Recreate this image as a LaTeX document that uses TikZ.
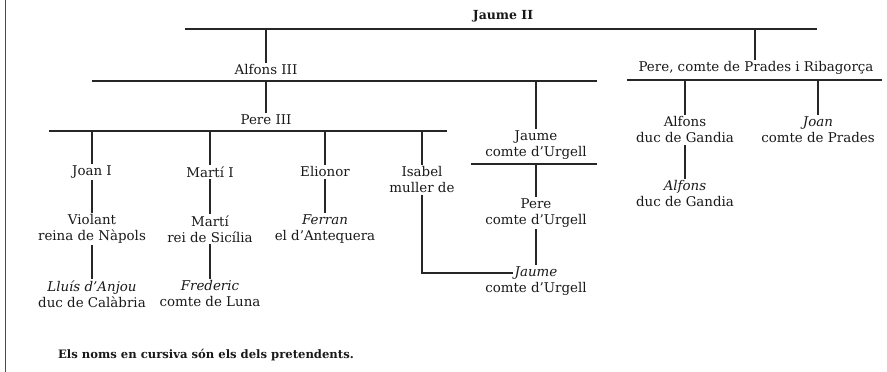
\documentclass[tikz,border=0pt]{standalone}
\usepackage{fontspec}
\setmainfont{DejaVu Serif}
\usepackage{tikz}
\usetikzlibrary{positioning}

\begin{document}
\begin{tikzpicture}[x=1pt,y=-1pt,
		every node/.style={font=\fontsize{13.4}{16}\selectfont,text=black!90,align=center,inner sep=1.5pt},
		head/.style={font=\fontsize{12.5}{14}\selectfont\bfseries},
		note/.style={font=\fontsize{11.6}{13}\selectfont\bfseries},
		bar/.style={line width=1.5pt,draw=black!85},
		link/.style={line width=1.3pt,draw=black!85}]
		\useasboundingbox (0,0) rectangle (887,372);
		\path (5.5,0) coordinate (frame_t);
		\path (5.5,372) coordinate (frame_b);
		\draw[line width=1.8pt,black!70] (frame_t) -- (frame_b);

		% generations
		\path (503,16) coordinate (jaume);
		\path (185,29) coordinate (top_l);
		\path (817,29) coordinate (top_r);
		\path (266,29) coordinate (alfons_up);
		\path (755,29) coordinate (prades_up);

		\path (266,70) coordinate (alfons);
		\path (92,81) coordinate (alfons_l);
		\path (597,81) coordinate (alfons_r);
		\path (266,81) coordinate (pere_up);
		\path (536,81) coordinate (urgell_up);

		\path (756,68) coordinate (prades);
		\path (627,80) coordinate (prades_l);
		\path (882,80) coordinate (prades_r);
		\path (685,80) coordinate (gandia_up);
		\path (818,80) coordinate (joanp_up);

		\path (266,120) coordinate (pere);
		\path (49,131) coordinate (pere_l);
		\path (447,131) coordinate (pere_r);
		\path (92,131) coordinate (joani_up);
		\path (210,131) coordinate (martii_up);
		\path (325,131) coordinate (elionor_up);
		\path (422,131) coordinate (isabel_up);

		\path (536,145) coordinate (urgell);
		\path (471,164) coordinate (urgell_l);
		\path (597,164) coordinate (urgell_r);
		\path (536,164) coordinate (pereu_up);

		\path (92,172) coordinate (joani);
		\path (210,172) coordinate (martii);
		\path (325,172) coordinate (elionor);
		\path (422,180) coordinate (isabel);
		\path (92,229) coordinate (violant);
		\path (210,229) coordinate (marti);
		\path (325,229) coordinate (ferran);
		\path (92,294) coordinate (lluis);
		\path (210,294) coordinate (frederic);
		\path (536,213) coordinate (pereu);
		\path (536,273) coordinate (jaumeu);
		\path (685,130) coordinate (gandia);
		\path (818,130) coordinate (joanp);
		\path (685,194) coordinate (gandia2);
		\path (206,355) coordinate (foot);

		% names
		\draw (jaume) node(jaume_ii) [head] {Jaume II};
		\draw (alfons) node(alfons_iii) {Alfons III};
		\draw (prades) node(prades_rib) {Pere, comte de Prades i Ribagorça};
		\draw (pere) node(pere_iii) {Pere III};
		\draw (urgell) node(jaume_urg) {Jaume\\comte d'Urgell};
		\draw (joani) node(joan_i) {Joan I};
		\draw (martii) node(marti_i) {Martí I};
		\draw (elionor) node(elionor_n) {Elionor};
		\draw (isabel) node(isabel_n) {Isabel\\muller de};
		\draw (violant) node(violant_n) {Violant\\reina de Nàpols};
		\draw (marti) node(marti_n) {Martí\\rei de Sicília};
		\draw (ferran) node(ferran_n) {\textit{Ferran}\\el d'Antequera};
		\draw (lluis) node(lluis_n) {\textit{Lluís d'Anjou}\\duc de Calàbria};
		\draw (frederic) node(frederic_n) {\textit{Frederic}\\comte de Luna};
		\draw (pereu) node(pere_urg) {Pere\\comte d'Urgell};
		\draw (jaumeu) node(jaume_urg2) {\textit{Jaume}};
		\node(jaume_urg2_t) [below=0pt of jaume_urg2] {comte d'Urgell};
		\draw (gandia) node(alfons_gan) {Alfons\\duc de Gandia};
		\draw (joanp) node(joan_pra) {\textit{Joan}\\comte de Prades};
		\draw (gandia2) node(alfons_gan2) {\textit{Alfons}\\duc de Gandia};
		\draw (foot) node(foot_note) [note] {Els noms en cursiva són els dels pretendents.};

		% bars
		\draw[bar] (top_l) -- (top_r);
		\draw[bar] (alfons_l) -- (alfons_r);
		\draw[bar] (prades_l) -- (prades_r);
		\draw[bar] (pere_l) -- (pere_r);
		\draw[bar] (urgell_l) -- (urgell_r);

		% descent
		\draw[link] (alfons_up) -- (alfons_iii.north);
		\draw[link] (prades_up) -- (prades_up |- prades_rib.north);
		\draw[link] (pere_up) -- (pere_iii.north);
		\draw[link] (urgell_up) -- (jaume_urg.north);
		\draw[link] (gandia_up) -- (alfons_gan.north);
		\draw[link] (joanp_up) -- (joan_pra.north);
		\draw[link] (joani_up) -- (joan_i.north);
		\draw[link] (martii_up) -- (marti_i.north);
		\draw[link] (elionor_up) -- (elionor_n.north);
		\draw[link] (isabel_up) -- (isabel_n.north);
		\draw[link] (pereu_up) -- (pere_urg.north);
		\draw[link] (joan_i.south) -- (violant_n.north);
		\draw[link] (marti_i.south) -- (marti_n.north);
		\draw[link] (elionor_n.south) -- (ferran_n.north);
		\draw[link] (violant_n.south) -- (lluis_n.north);
		\draw[link] (marti_n.south) -- (frederic_n.north);
		\draw[link] (pere_urg.south) -- (jaume_urg2.north);
		\draw[link] (alfons_gan.south) -- (alfons_gan2.north);
		\draw[link] (isabel_n.south) |- (jaume_urg2.west);
	\end{tikzpicture}
\end{document}
